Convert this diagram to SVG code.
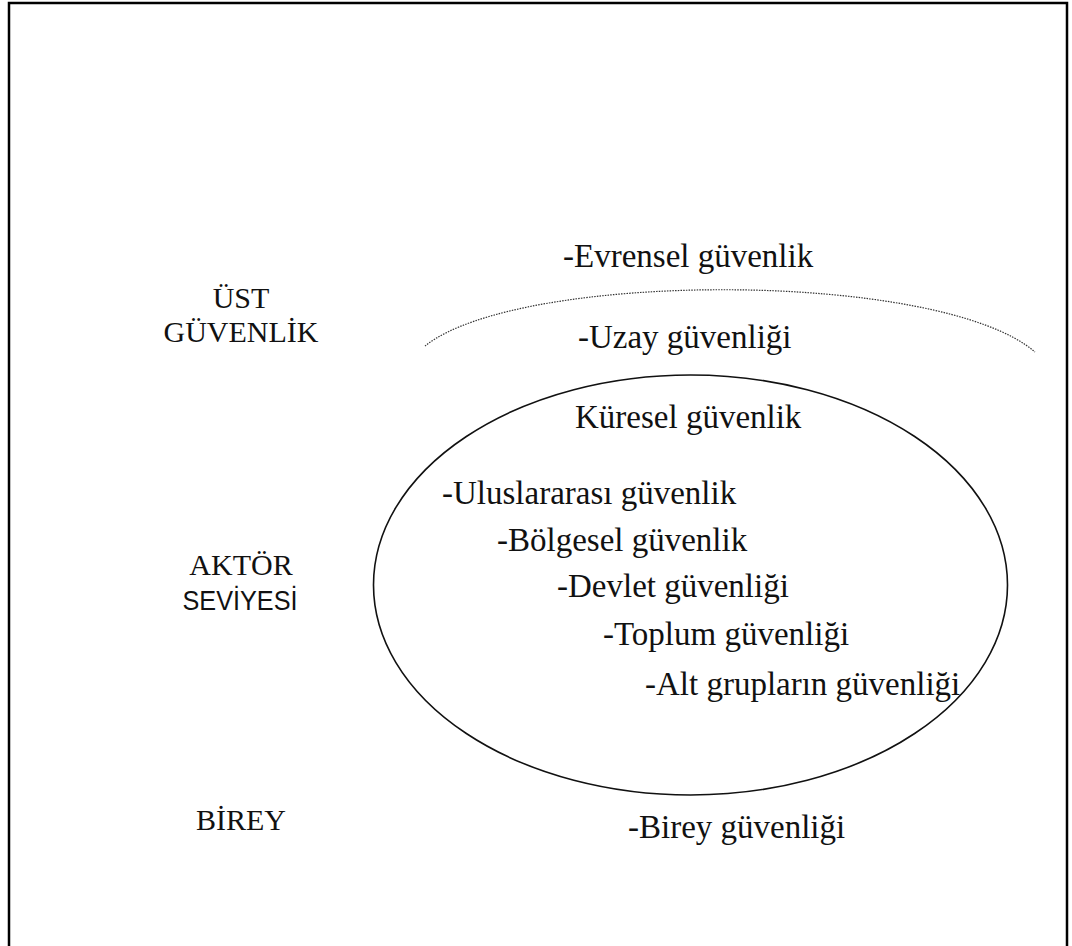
<svg xmlns="http://www.w3.org/2000/svg" width="1072" height="946" viewBox="0 0 1072 946">
<style>
.t{font-family:"Liberation Serif","Times New Roman",serif;font-size:33px;fill:#111}
.l{font-family:"Liberation Serif","Times New Roman",serif;font-size:30px;fill:#111;text-anchor:middle}
.s{font-family:"Liberation Sans",Arial,sans-serif;font-size:27px;fill:#111;text-anchor:middle}
</style>
<rect width="1072" height="946" fill="#fff"/>
<path d="M9,946 V3 H1067 V946" fill="none" stroke="#000" stroke-width="2.5"/>
<g id="connectors">
<path id="dotted-arc" d="M425,346 C520,270 940,270 1035,352" fill="none" stroke="#333" stroke-width="1.2" stroke-dasharray="1.5,1.2"/>
<ellipse id="ellipse" cx="690.5" cy="585" rx="317" ry="210" fill="none" stroke="#111" stroke-width="1.6"/>
</g>
<g id="ust"><text class="l" x="241" y="308">ÜST</text><text class="l" x="241" y="342">GÜVENLİK</text></g>
<g id="aktor"><text class="l" x="241" y="575">AKTÖR</text><text class="s" x="240" y="610" textLength="115" lengthAdjust="spacingAndGlyphs">SEVİYESİ</text></g>
<g id="birey"><text class="l" x="241" y="830">BİREY</text></g>
<g id="evrensel"><text class="t" x="563" y="267">-Evrensel güvenlik</text></g>
<g id="uzay"><text class="t" x="578" y="348">-Uzay güvenliği</text></g>
<g id="kuresel"><text class="t" x="575" y="428">Küresel güvenlik</text></g>
<g id="uluslararasi"><text class="t" x="442" y="504">-Uluslararası güvenlik</text></g>
<g id="bolgesel"><text class="t" x="497" y="551">-Bölgesel güvenlik</text></g>
<g id="devlet"><text class="t" x="557" y="597">-Devlet güvenliği</text></g>
<g id="toplum"><text class="t" x="603" y="645">-Toplum güvenliği</text></g>
<g id="altgruplar"><text class="t" x="645" y="695">-Alt grupların güvenliği</text></g>
<g id="bireyg"><text class="t" x="628" y="838">-Birey güvenliği</text></g>
</svg>
